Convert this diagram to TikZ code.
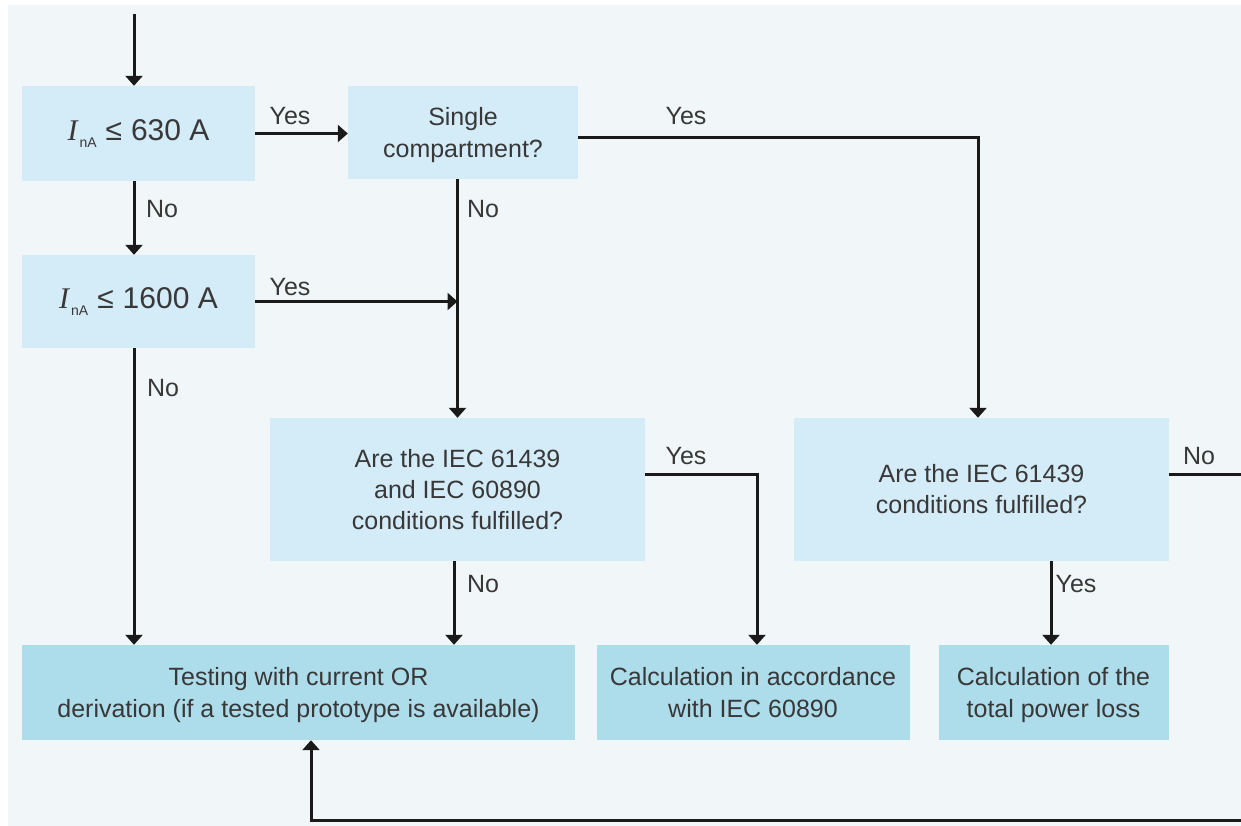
\documentclass[tikz,border=0pt]{standalone}
\usepackage{fontspec}
\setmainfont{Liberation Sans}
\newfontfamily\serifit{Liberation Serif}
\usetikzlibrary{arrows.meta}
\definecolor{bgc}{HTML}{F1F7F8}
\definecolor{boxup}{HTML}{D4EBF8}
\definecolor{boxlow}{HTML}{ADDCEB}
\definecolor{txt}{HTML}{383838}
\definecolor{ln}{HTML}{1A1A1A}
\newcommand{\nodepth}[1]{\raisebox{0pt}[\height][0pt]{#1}}
\begin{document}
\begin{tikzpicture}[x=1pt,y=-1pt,
  every node/.style={text=txt, font=\fontsize{25}{32}\selectfont},
  upbox/.style={fill=boxup, draw=none, inner sep=0pt, align=center},
  lowbox/.style={fill=boxlow, draw=none, inner sep=0pt, align=center},
  conn/.style={draw=ln, line width=3pt, -{Triangle[width=17pt,length=10pt]}},
  lbl/.style={font=\fontsize{25}{28}\selectfont, inner sep=0pt}]
\useasboundingbox (0,0) rectangle (1241,825);
\fill[white] (0,0) rectangle (1241,825);
\fill[bgc] (8,5) rectangle (1250,830);

% boxes
\node[upbox, minimum width=233pt, minimum height=95pt] (B1) at (138.5,133.5)
  {\fontsize{30}{30}\selectfont{\serifit\itshape I}\hspace{2pt}\raisebox{-0.5ex}{\fontsize{14}{14}\selectfont nA}\hspace{9pt}≤\hspace{9pt}630 A};
\node[upbox, minimum width=233pt, minimum height=93pt] (B2) at (138.5,301.5)
  {\fontsize{30}{30}\selectfont{\serifit\itshape I}\hspace{2pt}\raisebox{-0.5ex}{\fontsize{14}{14}\selectfont nA}\hspace{9pt}≤\hspace{9pt}1600 A};
\node[upbox, minimum width=230pt, minimum height=93pt] (B3) at (463,132.5)
  {Single\\\nodepth{compartment?}};
\node[upbox, minimum width=375pt, minimum height=143pt] (B4) at (457.5,489.5)
  {Are the IEC 61439\\[-1pt]and IEC 60890\\[-1pt]conditions fulfilled?};
\node[upbox, minimum width=375pt, minimum height=143pt] (B5) at (981.5,489.5)
  {Are the IEC 61439\\[-1pt]conditions fulfilled?};
\node[lowbox, minimum width=553pt, minimum height=95pt] (B6) at (298.5,692.5)
  {Testing with current OR\\\nodepth{derivation (if a tested prototype is available)}};
\node[lowbox, minimum width=313pt, minimum height=95pt] (B7) at (753,692.5)
  {Calculation in accordance\\with IEC 60890};
\node[lowbox, minimum width=230pt, minimum height=95pt] (B8) at (1053.5,692.5)
  {Calculation of the\\\nodepth{total power loss}};

% helper coordinates
\coordinate (in) at (134,14);
\coordinate (jB) at (978,137);
\coordinate (jC) at (757,474);
\coordinate (jD) at (1247,474);
\coordinate (jE) at (1247,820);
\coordinate (jF) at (311,820);
\coordinate (jG) at (1051,561);

% connectors
\draw[conn] (in) -- (in |- B1.north);
\draw[conn] (B1.south -| in) -- (B2.north -| in);
\draw[conn] (B2.south -| in) -- (B6.north -| in);
\draw[conn] (B1.east) -- (B3.west |- B1.east);
\draw[conn] (B3.east |- jB) -- (jB) -- (B5.north -| jB);
\draw[conn] (B4.north |- B3.south) -- (B4.north);
\draw[conn] (B2.east) -- (B2.east -| B4.north);
\draw[conn] ([xshift=-3.5pt]B4.south) -- ([xshift=-3.5pt]B4.south |- B6.north);
\draw[conn] (B4.east |- jC) -- (jC) -- (B7.north -| jC);
\draw[conn] (B5.south -| jG) -- (B8.north -| jG);
\draw[conn] (B5.east |- jD) -- (jD) -- (jE) -- (jF) -- (B6.south -| jF);

% labels
\node[lbl] (l1) at (290,116) {Yes};
\node[lbl] (l2) at (162,209) {No};
\node[lbl] (l3) at (686,116) {Yes};
\node[lbl] (l4) at (483,209) {No};
\node[lbl] (l5) at (290,287) {Yes};
\node[lbl] (l6) at (163,388) {No};
\node[lbl] (l7) at (686,456) {Yes};
\node[lbl] (l8) at (483,584) {No};
\node[lbl] (l9) at (1076,584) {Yes};
\node[lbl] (l10) at (1199,456) {No};
\end{tikzpicture}
\end{document}
